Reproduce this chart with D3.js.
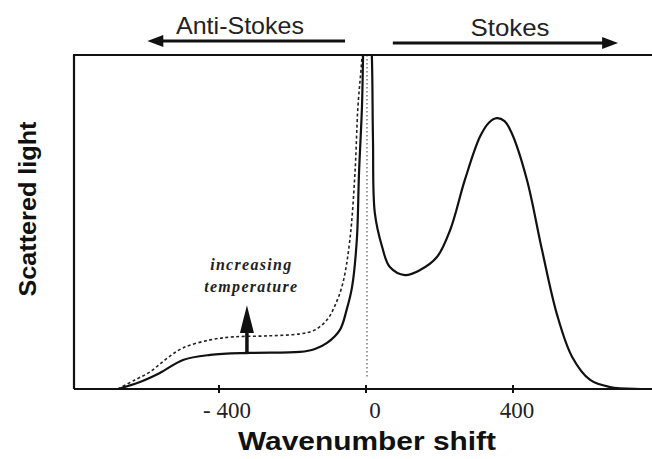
<!DOCTYPE html>
<html><head><meta charset="utf-8">
<script src="https://cdn.jsdelivr.net/npm/d3@7"></script>
<style>body{margin:0;background:#fff}svg{display:block}</style>
</head><body>
<script>
// ---- data ----
const solidX = [-675,-615,-561,-498,-424,-316,-180,-139,-106,-71,-52,-38,-25,-19,-11,-8,-3,0,5,11,16,19,24,44,65,106,147,193,229,269,310,335,356,377,397,438,479,520,561,610,664,746,790];
const solidY = [0,2.1,4.8,8.7,10.2,10.8,11.1,12.0,13.8,17.7,24.0,30.5,44.6,64.7,84.4,99.4,125,140,125,110,99.4,74.6,52.7,42.5,36.5,34.1,35.6,39.5,47.6,62.6,75.5,79.8,81.1,80.2,76.5,62.6,41.6,22.2,9.6,2.7,0.6,0,0];
const dashX = [-675,-629,-588,-547,-498,-424,-362,-269,-180,-139,-106,-84,-63,-44,-30,-22,-11,-5,0];
const dashY = [0,2.7,5.1,8.7,12.3,14.7,15.6,15.9,16.5,17.7,20.7,25.1,31.7,44.6,64.7,84.4,99.4,115,140];
const xTicks = [-400, 0, 400];
const xTickLabels = ["- 400", "0", "400"];
const xLabel = "Wavenumber shift";
const yLabel = "Scattered light";
const leftLabel = "Anti-Stokes", rightLabel = "Stokes";
const annot = ["increasing", "temperature"];

const W = 652, H = 459;
const m = {l: 74, t: 55, r: 0, b: 70};
const svg = d3.select("body").append("svg").attr("width", W).attr("height", H);

const x = d3.scaleLinear().domain([-400, 400]).range([219, 513]);
const y = d3.scaleLinear().domain([0, 100]).range([389, 55]);

svg.append("clipPath").attr("id","c").append("rect")
  .attr("x", m.l).attr("y", m.t).attr("width", W - m.l).attr("height", 389 - m.t);

const g = svg.append("g");
// vertical dotted line at 0
g.append("line").attr("x1", x(0)+1).attr("x2", x(0)+1).attr("y1", y(100)).attr("y2", y(3))
  .attr("stroke", "#555").attr("stroke-width", 1.2).attr("stroke-dasharray", "1.5,2.5");

const line = d3.line().x(d => x(d[0])).y(d => y(d[1])).curve(d3.curveCatmullRom.alpha(0.5));
const pg = g.append("g").attr("clip-path", "url(#c)");
pg.append("path").datum(dashX.map((v,i)=>[v, dashY[i]])).attr("d", line)
  .attr("fill","none").attr("stroke","#222").attr("stroke-width",1.6).attr("stroke-dasharray","3,2.5");
pg.append("path").datum(solidX.map((v,i)=>[v, solidY[i]])).attr("d", line)
  .attr("fill","none").attr("stroke","#111").attr("stroke-width",2.2);

// axes
const axC = "#111";
svg.append("line").attr("x1", m.l).attr("x2", W).attr("y1", y(0)).attr("y2", y(0)).attr("stroke", axC).attr("stroke-width", 2);
svg.append("line").attr("x1", m.l - 1).attr("x2", W).attr("y1", y(100)).attr("y2", y(100)).attr("stroke", axC).attr("stroke-width", 2.2);
svg.append("line").attr("x1", m.l).attr("x2", m.l).attr("y1", y(100)).attr("y2", y(0)).attr("stroke", axC).attr("stroke-width", 2.2);
xTicks.forEach((t,i) => {
  svg.append("line").attr("x1", x(t)).attr("x2", x(t)).attr("y1", y(0)-4).attr("y2", y(0)+4).attr("stroke", axC).attr("stroke-width", 2);
  svg.append("text").attr("x", x(t) + (t===0?9:(t<0?8:4))).attr("y", 418).attr("text-anchor","middle")
    .attr("font-family","Liberation Serif, serif").attr("font-size",23).attr("fill","#222").text(xTickLabels[i]);
});
svg.append("text").attr("x", 367).attr("y", 450).attr("text-anchor","middle")
  .attr("font-family","Liberation Sans, Arial, sans-serif").attr("font-weight","bold").attr("font-size",26)
  .attr("textLength", 258).attr("lengthAdjust","spacingAndGlyphs").attr("fill","#111").text(xLabel);
svg.append("text").attr("transform","translate(36,209) rotate(-90)").attr("text-anchor","middle")
  .attr("font-family","Liberation Sans, Arial, sans-serif").attr("font-weight","bold").attr("font-size",24)
  .attr("textLength", 175).attr("lengthAdjust","spacingAndGlyphs").attr("fill","#111").text(yLabel);

// top arrows
function arrow(xa, xb, yy) {
  const dir = Math.sign(xb - xa);
  svg.append("line").attr("x1", x(xa)).attr("x2", x(xb) - dir*10).attr("y1", yy).attr("y2", yy).attr("stroke","#111").attr("stroke-width",3);
  svg.append("path").attr("d", `M${x(xb)},${yy} L${x(xb)-dir*16},${yy-6} L${x(xb)-dir*16},${yy+6} Z`).attr("fill","#111");
}
arrow(-57, -595, 41);
arrow(73, 686, 43);
svg.append("text").attr("x", 240).attr("y", 34).attr("text-anchor","middle")
  .attr("font-family","Liberation Sans, Arial, sans-serif").attr("font-size",24)
  .attr("textLength", 128).attr("lengthAdjust","spacingAndGlyphs").attr("fill","#222").text(leftLabel);
svg.append("text").attr("x", 510).attr("y", 36).attr("text-anchor","middle")
  .attr("font-family","Liberation Sans, Arial, sans-serif").attr("font-size",24)
  .attr("textLength", 79).attr("lengthAdjust","spacingAndGlyphs").attr("fill","#222").text(rightLabel);

// temperature arrow
const ax = -324;
svg.append("line").attr("x1", x(ax)).attr("x2", x(ax)).attr("y1", y(10.8)).attr("y2", y(17)).attr("stroke","#111").attr("stroke-width",3.5);
svg.append("path").attr("d", `M${x(ax)},${y(25.1)} L${x(ax)-7},${y(16.8)} L${x(ax)+7},${y(16.8)} Z`).attr("fill","#111");
annot.forEach((t,i) => {
  svg.append("text").attr("x", x(-312)).attr("y", i===0 ? 270 : 292).attr("text-anchor","middle")
    .attr("font-family","Liberation Serif, serif").attr("font-style","italic").attr("font-weight","bold")
    .attr("font-size",16).attr("letter-spacing",1.3).attr("fill","#222").text(t);
});
</script>
</body></html>
